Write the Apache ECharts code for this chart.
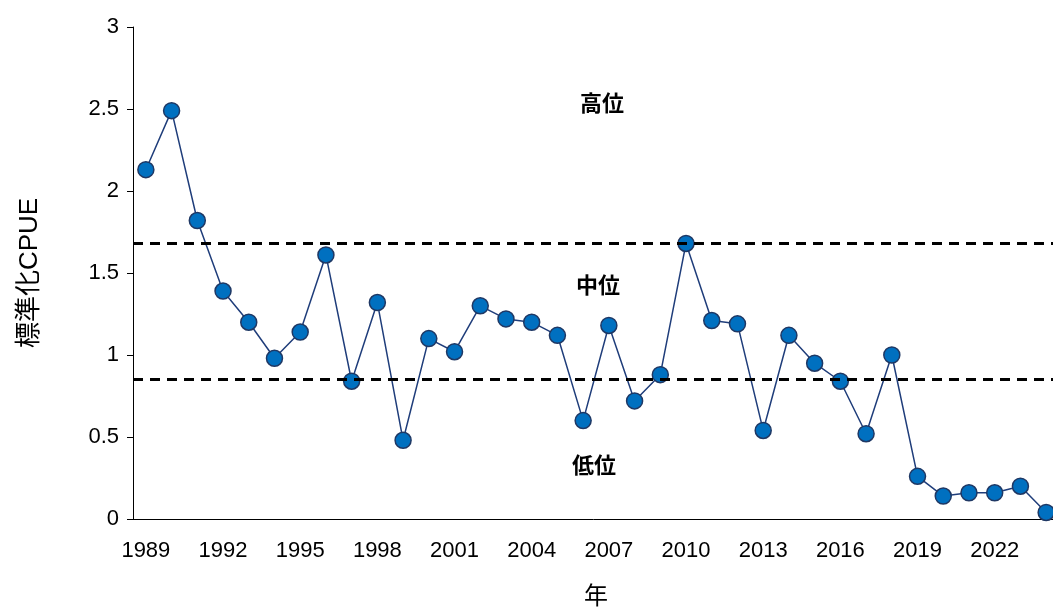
<!DOCTYPE html>
<html><head><meta charset="utf-8">
<script src="https://cdn.jsdelivr.net/npm/echarts@6/dist/echarts.min.js"></script>
<style>html,body{margin:0;padding:0;background:#fff;overflow:hidden}#main{width:1053px;height:614px}</style>
</head><body><div id="main"></div>
<script>
var years = [];
for (var y = 1989; y <= 2024; y++) years.push(String(y));
var cpue = [2.13, 2.49, 1.82, 1.39, 1.20, 0.98, 1.14, 1.61, 0.84, 1.32, 0.48, 1.10, 1.02, 1.30, 1.22, 1.20, 1.12, 0.60,
  1.18, 0.72, 0.88, 1.68, 1.21, 1.19, 0.54, 1.12, 0.95, 0.84, 0.52, 1.00, 0.26, 0.14, 0.16, 0.16, 0.20, 0.04];
var thresholds = [1.68, 0.85];
var levelLabels = ['高位', '中位', '低位'];
var font = '"Liberation Sans", "Noto Sans CJK JP", sans-serif';

var myChart = echarts.init(document.getElementById('main'));
var option = {
  animation: false,
  grid: { left: 133, top: 27, right: -6, bottom: 95, outerBoundsMode: 'none' },
  xAxis: {
    type: 'category',
    data: years,
    name: '年',
    nameLocation: 'middle',
    nameGap: 66,
    nameTextStyle: { fontSize: 24, color: '#000', fontFamily: font },
    axisLine: { lineStyle: { color: '#000' } },
    axisTick: { alignWithLabel: true, interval: 2, length: 6 },
    axisLabel: { interval: 2, fontSize: 22, color: '#000', fontFamily: font, margin: 21 }
  },
  yAxis: {
    type: 'value',
    min: 0, max: 3, interval: 0.5,
    name: '標準化CPUE',
    nameLocation: 'middle',
    nameGap: 90,
    nameTextStyle: { fontSize: 26, color: '#000', fontFamily: font },
    axisLine: { show: true, lineStyle: { color: '#000' } },
    axisTick: { show: true, length: 6 },
    splitLine: { show: false },
    axisLabel: { fontSize: 22, color: '#000', fontFamily: font, margin: 14 }
  },
  series: [{
    type: 'line',
    data: cpue,
    symbol: 'circle',
    symbolSize: 16,
    lineStyle: { color: '#1F3D7A', width: 1.5 },
    itemStyle: { color: '#0070C0', borderColor: '#1F3864', borderWidth: 1.5 },
    markLine: {
      silent: true,
      symbol: 'none',
      label: { show: false },
      lineStyle: { color: '#000', type: [10, 7], width: 3 },
      data: thresholds.map(function (v) { return { yAxis: v }; })
    },
    z: 3
  }],
  graphic: [
    { type: 'text', left: 580, top: 92, style: { text: levelLabels[0], font: 'bold 22px "Noto Sans CJK JP"', fill: '#000' } },
    { type: 'text', left: 576, top: 274, style: { text: levelLabels[1], font: 'bold 22px "Noto Sans CJK JP"', fill: '#000' } },
    { type: 'text', left: 572, top: 454, style: { text: levelLabels[2], font: 'bold 22px "Noto Sans CJK JP"', fill: '#000' } }
  ]
};
myChart.setOption(option);
</script>
</body></html>
